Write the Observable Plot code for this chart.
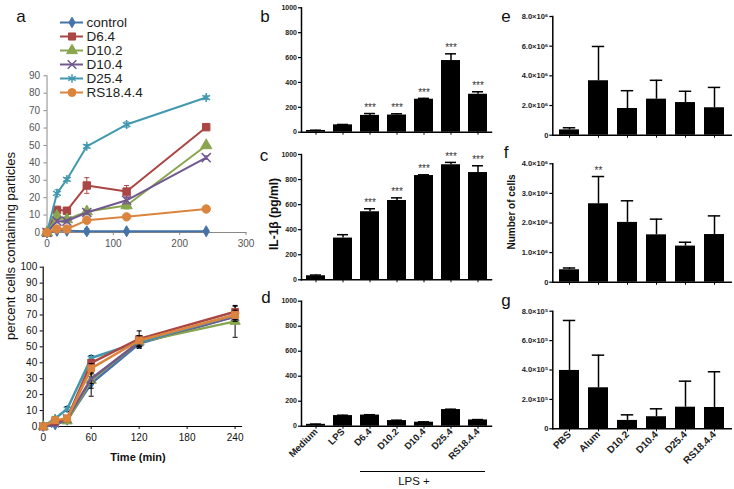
<!DOCTYPE html>
<html>
<head>
<meta charset="utf-8">
<script src="https://cdn.jsdelivr.net/npm/d3@7"></script>
<script src="https://cdn.jsdelivr.net/npm/@observablehq/plot@0.6"></script>
<style>
  body { margin: 0; background: #fff; }
  #fig { position: relative; width: 734px; height: 489px; overflow: hidden; background: #fff;
         font-family: "Liberation Sans", Arial, sans-serif; }
  .lbl { position: absolute; white-space: nowrap; color: #111; line-height: 1; }
</style>
</head>
<body>
<div id="fig"></div>
<script>
// ---------- panel a : time course ----------
const times = [0, 15, 30, 60, 120, 240];
const seriesNames = ["control", "D6.4", "D10.2", "D10.4", "D25.4", "RS18.4.4"];
const seriesColors = ["#4572A7", "#AA4643", "#89A54E", "#71588F", "#4198AF", "#DB843D"];
const topSymbols = ["diamond", "square", "triangle", "times", "asterisk", "circle"];
const bottomSymbols = ["diamond", "square", "triangle", "times", "asterisk", "square"];

// top: percent cells containing particles
const topControl = [0, 1, 1, 0.7, 0.7, 0.7];
const topD64 = [0, 13, 12.5, 27, 23.5, 60.5];
const topD102 = [0, 9.5, 7.5, 12, 15.5, 50];
const topD104 = [0, 6.5, 6.5, 11.5, 18.5, 43];
const topD254 = [0, 22.5, 30.5, 49.5, 62, 77.5];
const topRS = [0, 2, 2, 7, 9, 13.5];
const topErrControl = [0, 0.5, 0.5, 1.5, 0.5, 0.5];
const topErrD64 = [0, 1, 1, 4.5, 3.5, 1];
const topErrD102 = [0, 1.5, 1, 1, 2, 1];
const topErrD104 = [0, 1, 1, 1, 2, 1];
const topErrD254 = [0, 2, 1, 1, 1.5, 1];
const topErrRS = [0, 0.5, 0.5, 1, 1, 0.5];

// bottom: percent cells (all particles)
const botControl = [0, 1, 4, 27, 52, 69];
const botD64 = [0, 3, 5, 40, 55, 72];
const botD102 = [0, 4, 3.5, 29, 53, 66];
const botD104 = [0, 2, 5, 30, 53, 69];
const botD254 = [0, 5, 11, 43, 53, 70];
const botRS = [0, 4, 5, 36.5, 54, 70];
const botErrControl = [0, 0.5, 1, 8, 3, 3];
const botErrD64 = [0, 1, 1, 2, 5, 3.5];
const botErrD102 = [0, 1, 1, 5, 3, 10];
const botErrD104 = [0, 1, 1, 3, 3, 3];
const botErrD254 = [0, 1, 1.5, 1.5, 3, 3];
const botErrRS = [0, 1, 1, 3, 3, 3];

// ---------- panels b, c, d : IL-1β ----------
const ilCats = ["Medium", "LPS", "D6.4", "D10.2", "D10.4", "D25.4", "RS18.4.4"];
const ilStars = ["", "", "***", "***", "***", "***", "***"];
const ilB = [14, 59, 135, 138, 265, 576, 305];
const ilBTop = [16, 62, 150, 148, 272, 630, 325];
const ilC = [32, 333, 543, 633, 832, 918, 856];
const ilCTop = [38, 360, 567, 654, 838, 937, 910];
const ilD = [15, 85, 89, 45, 32, 133, 50];
const ilDTop = [17, 88, 92, 48, 35, 136, 53];
const ilTicks = [0, 200, 400, 600, 800, 1000];

// ---------- panels e, f, g : number of cells ----------
const cellCats = ["PBS", "Alum", "D10.2", "D10.4", "D25.4", "RS18.4.4"];
const eVals = [0.36e6, 3.67e6, 1.8e6, 2.43e6, 2.2e6, 1.85e6];
const eTop = [0.5e6, 5.98e6, 3.0e6, 3.7e6, 2.96e6, 3.22e6];
const eTicks = [0, 2e6, 4e6, 6e6, 8e6];
const fVals = [0.42e6, 2.65e6, 2.02e6, 1.6e6, 1.22e6, 1.61e6];
const fTop = [0.48e6, 3.57e6, 2.75e6, 2.13e6, 1.35e6, 2.24e6];
const fStars = ["", "**", "", "", "", ""];
const fTicks = [0, 1e6, 2e6, 3e6, 4e6];
const gVals = [3.97e5, 2.79e5, 0.57e5, 0.82e5, 1.47e5, 1.45e5];
const gTop = [7.37e5, 5.01e5, 0.95e5, 1.36e5, 3.24e5, 3.88e5];
const gTicks = [0, 2e5, 4e5, 6e5, 8e5];

// ================= drawing =================
const fig = document.getElementById("fig");
const FONT = "'Liberation Sans', Arial, sans-serif";
function css(left, top, extra = "") {
  return `position:absolute;left:${left}px;top:${top}px;background:transparent;overflow:visible;max-width:none;height:auto;font-family:${FONT};${extra}`;
}
function label(text, x, y, style, rot) {
  const d = document.createElement("div");
  d.className = "lbl";
  d.textContent = text;
  d.style.cssText += `left:${x}px;top:${y}px;transform:translate(-50%,-50%)${rot ? ` rotate(${rot}deg)` : ""};${style}`;
  fig.append(d);
}
const capSymbol = { draw(ctx, size) { const w = Math.sqrt(size / Math.PI); ctx.moveTo(-w, 0); ctx.lineTo(w, 0); } };
const strokeSyms = new Set(["times", "asterisk"]);

function makeRows(valueArrays, errArrays) {
  return seriesNames.map((s, i) => times.map((t, j) => ({ s, t, v: valueArrays[i][j], e: errArrays[i][j] })));
}
function seriesMarks(rowsBySeries, symbols, order, opts) {
  const marks = [];
  for (const i of order) {
    const rows = rowsBySeries[i];
    const col = seriesColors[i];
    const errRows = rows.filter(d => d.e > 0);
    const ec = opts.errColor || col;
    marks.push(Plot.ruleX(errRows, { x: "t", y1: d => d.v - d.e, y2: d => d.v + d.e, stroke: ec, strokeWidth: 1 }));
    marks.push(Plot.dot(errRows, { x: "t", y: d => d.v + d.e, symbol: capSymbol, r: opts.cap, stroke: ec, strokeWidth: 1 }));
    marks.push(Plot.dot(errRows, { x: "t", y: d => d.v - d.e, symbol: capSymbol, r: opts.cap, stroke: ec, strokeWidth: 1 }));
    marks.push(Plot.line(rows, { x: "t", y: "v", stroke: col, strokeWidth: opts.lw }));
    const sym = symbols[i];
    const hollow = strokeSyms.has(sym);
    marks.push(Plot.dot(rows, { x: "t", y: "v", symbol: sym, r: opts.r * (sym === "diamond" ? 0.8 : 1),
      fill: hollow ? "none" : col, stroke: col, strokeWidth: hollow ? 1.5 : 1 }));
  }
  return marks;
}

// ---- panel a (top) ----
const topRows = makeRows([topControl, topD64, topD102, topD104, topD254, topRS],
                         [topErrControl, topErrD64, topErrD102, topErrD104, topErrD254, topErrRS]);
fig.append(Plot.plot({
  width: 260, height: 250, marginLeft: 46.5, marginRight: 14.5, marginTop: 75.3, marginBottom: 18,
  style: css(0, 0, "font-size:10px;color:#555;"),
  x: { domain: [0, 300] },
  y: { domain: [0, 90] },
  marks: [
    Plot.axisY({ ticks: d3.range(0, 91, 10), tickSize: 3, tickPadding: 4, stroke: "#888", label: null }),
    Plot.axisX({ ticks: [0, 100, 200, 300], tickSize: 3, tickPadding: 4, stroke: "#888", label: null }),
    Plot.frame({ anchor: "left", stroke: "#888" }),
    Plot.frame({ anchor: "bottom", stroke: "#888" }),
    ...seriesMarks(topRows, topSymbols, [0, 1, 2, 3, 4, 5], { lw: 2, r: 4.2, cap: 2.5 })
  ]
}));

// ---- legend of panel a ----
const legendRows = seriesNames.map((s, i) => ({ s, col: seriesColors[i], sym: topSymbols[i] }));
fig.append(Plot.plot({
  width: 200, height: 112, margin: 0,
  style: css(0, 0, "font-size:13.5px;color:#222;"),
  x: { domain: [0, 1], range: [60, 83], axis: null },
  y: { type: "point", domain: seriesNames, range: [12, 101], axis: null },
  marks: [
    Plot.ruleY(legendRows, { y: "s", x1: 0, x2: 1, stroke: d => d.col, strokeWidth: 2 }),
    ...legendRows.map(d => Plot.dot([d], { x: 0.5, y: "s", symbol: d.sym, r: d.sym === "diamond" ? 3.2 : 4,
      fill: strokeSyms.has(d.sym) ? "none" : d.col, stroke: d.col, strokeWidth: strokeSyms.has(d.sym) ? 1.5 : 1 })),
    Plot.text(legendRows, { x: 1, dx: 3, y: "s", text: "s", textAnchor: "start", fill: "#222", fontSize: 13.5 })
  ]
}));

// ---- panel a (bottom) ----
const botRows = makeRows([botControl, botD64, botD102, botD104, botD254, botRS],
                         [botErrControl, botErrD64, botErrD102, botErrD104, botErrD254, botErrRS]);
fig.append(Plot.plot({
  width: 260, height: 239, marginLeft: 42.7, marginRight: 19, marginTop: 16.7, marginBottom: 63,
  style: css(0, 250, "font-size:10px;color:#111;"),
  x: { domain: [0, 248] },
  y: { domain: [0, 100] },
  marks: [
    Plot.axisY({ ticks: d3.range(0, 101, 10), tickSize: 3, tickPadding: 3, stroke: "#000", label: null }),
    Plot.axisX({ ticks: [0, 60, 120, 180, 240], tickSize: 3, tickPadding: 4, stroke: "#000", label: null }),
    Plot.frame({ anchor: "left", stroke: "#000", strokeWidth: 1.2 }),
    Plot.frame({ anchor: "bottom", stroke: "#000", strokeWidth: 1.2 }),
    ...seriesMarks(botRows, bottomSymbols, [0, 2, 3, 4, 1, 5], { lw: 2.5, r: 3.8, cap: 2.5, errColor: "#000" })
  ]
}));

// ---- bar panels ----
function barPanel(o) {
  const rows = o.cats.map((c, i) => ({ cat: c, v: o.values[i], e: o.tops[i], s: o.stars ? o.stars[i] : "" }));
  return Plot.plot({
    width: o.width, height: o.height,
    marginLeft: o.mL, marginRight: o.mR, marginTop: o.mT, marginBottom: o.mB,
    style: css(o.left, o.top, `font-size:${o.tickFont}px;font-weight:bold;color:#222;`),
    x: { domain: o.cats, paddingInner: o.pi, paddingOuter: o.po },
    y: { domain: [0, o.yMax] },
    marks: [
      Plot.barY(rows, { x: "cat", y: "v", fill: "#000" }),
      Plot.ruleX(rows, { x: "cat", y1: "v", y2: "e", stroke: "#000", strokeWidth: 1.5 }),
      Plot.tickY(rows, { x: "cat", y: "e", stroke: "#000", strokeWidth: 1.5, insetLeft: o.capInset, insetRight: o.capInset }),
      Plot.text(rows.filter(d => d.s), { x: "cat", y: "e", text: "s", dy: -6, fontSize: o.starFont, fontWeight: "normal", fill: "#333" }),
      Plot.axisY({ ticks: o.yTicks, tickFormat: o.fmt, tickSize: 3, tickPadding: 1.5, stroke: "#000", strokeWidth: 1.2, label: null }),
      o.rotate
        ? Plot.axisX({ tickRotate: -45, tickSize: 3, tickPadding: 1, fontSize: o.xFont, stroke: "#000", label: null })
        : Plot.axisX({ tickSize: 3, tickFormat: () => "", stroke: "#000", label: null }),
      Plot.frame({ anchor: "left", stroke: "#000", strokeWidth: 1.5 }),
      Plot.frame({ anchor: "bottom", stroke: "#000", strokeWidth: 1.5 })
    ]
  });
}
const ilFmt = d => String(d);
const common7 = { cats: ilCats, left: 255, width: 240, mL: 46, mR: 4, yMax: 1000, yTicks: ilTicks, fmt: ilFmt,
  pi: 0.3, po: 0.15, capInset: 4, tickFont: 7, starFont: 10, xFont: 9.5 };
fig.append(barPanel({ ...common7, values: ilB, tops: ilBTop, stars: ilStars, top: 0, height: 140, mT: 7.3, mB: 8.3 }));
fig.append(barPanel({ ...common7, values: ilC, tops: ilCTop, stars: ilStars, top: 145, height: 140, mT: 9, mB: 5.7 }));
fig.append(barPanel({ ...common7, values: ilD, tops: ilDTop, top: 290, height: 199, mT: 10.7, mB: 63.3, rotate: true }));

const sup = { 5: "⁵", 6: "⁶" };
const cellFmt = p => d => d === 0 ? "0" : (d / 10 ** p).toFixed(1) + "×10" + sup[p];
const common6 = { cats: cellCats, left: 500, width: 234, mL: 52.3, mR: 3.3, pi: 0.3, po: 0.17, capInset: 3.8,
  tickFont: 7.5, starFont: 10, xFont: 10 };
fig.append(barPanel({ ...common6, values: eVals, tops: eTop, top: 0, height: 142, mT: 16, mB: 7.3,
  yMax: 8e6, yTicks: eTicks, fmt: cellFmt(6) }));
fig.append(barPanel({ ...common6, values: fVals, tops: fTop, stars: fStars, top: 145, height: 142, mT: 18.3, mB: 5.3,
  yMax: 4e6, yTicks: fTicks, fmt: cellFmt(6) }));
fig.append(barPanel({ ...common6, values: gVals, tops: gTop, top: 290, height: 199, mT: 20.7, mB: 60.7,
  yMax: 8e5, yTicks: gTicks, fmt: cellFmt(5), rotate: true }));

// ---- text labels ----
const letter = "font-size:17px;color:#111;";
label("a", 21, 16, letter);
label("b", 265, 16, letter);
label("c", 264, 155, letter);
label("d", 266, 297, letter);
label("e", 506, 16, letter);
label("f", 506, 152, letter);
label("g", 506, 300, letter);
label("percent cells containing particles", 10, 246, "font-size:13px;color:#111;", -90);
label("Time (min)", 138, 457, "font-size:11px;font-weight:bold;color:#111;");
label("IL-1β (pg/ml)", 274, 214, "font-size:12px;font-weight:bold;color:#111;", -90);
label("Number of cells", 512, 212, "font-size:10px;font-weight:bold;color:#111;", -90);
label("LPS +", 414, 482, "font-size:11.5px;color:#111;");
const bracket = document.createElement("div");
bracket.style.cssText = "position:absolute;left:360px;top:471px;width:125px;border-top:1px solid #000;";
fig.append(bracket);
</script>
</body>
</html>
